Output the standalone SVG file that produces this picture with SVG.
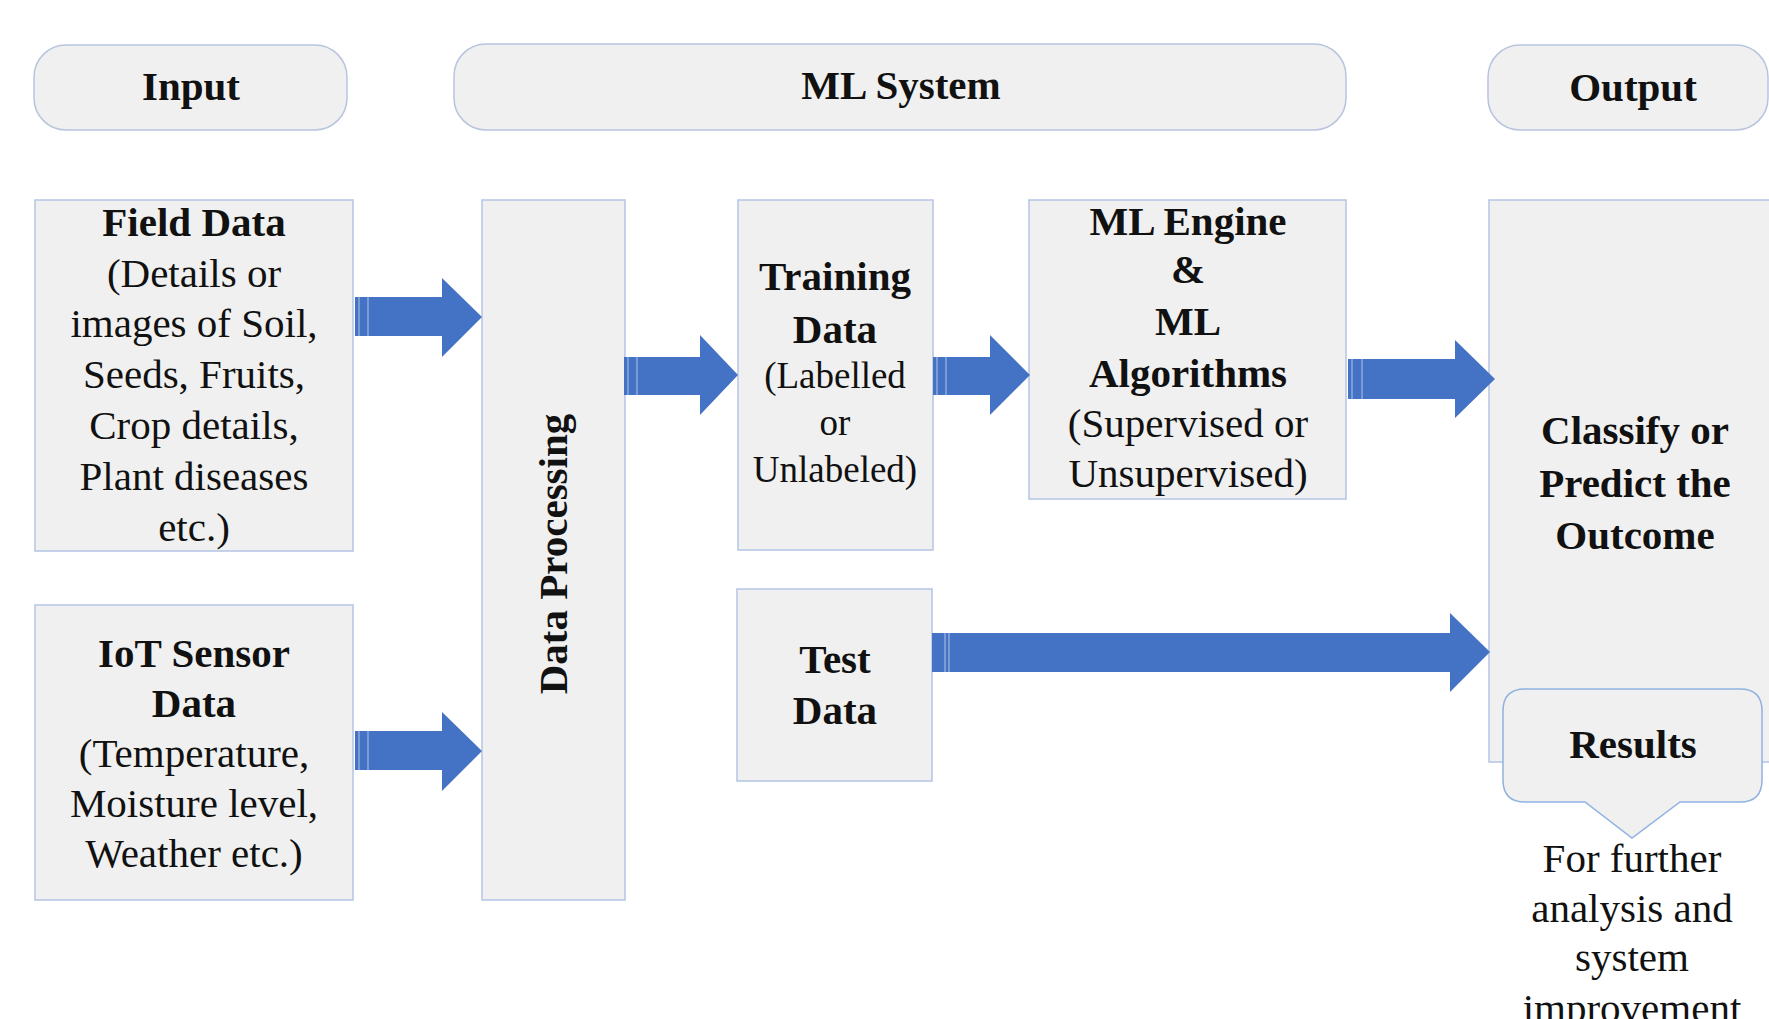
<svg xmlns="http://www.w3.org/2000/svg" width="1769" height="1019" viewBox="0 0 1769 1019">
<defs>
<style>
.box{fill:#F0F0F0;stroke:#B4C5E4;stroke-width:1.5}
.pill{fill:#F0F0F0;stroke:#B8C4DE;stroke-width:1.5}
.call{fill:#F0F0F0;stroke:#8FB2E0;stroke-width:1.5}
.arrow{fill:#4472C4}
.stripe{stroke:#FFFFFF;stroke-opacity:0.45;stroke-width:1.3}
text{font-family:"Liberation Serif","Times New Roman",serif;fill:#111;text-anchor:middle}
.b{font-weight:bold;font-size:41px}
.n{font-size:41px}
.s{font-size:37px}
</style>
</defs>
<rect width="1769" height="1019" fill="#FFFFFF"/>

<g id="input-header">
<rect class="pill" x="34" y="45" width="313" height="85" rx="32"/>
<text class="b" x="191" y="100">Input</text>
</g>
<g id="ml-system-header">
<rect class="pill" x="454" y="44" width="892" height="86" rx="32"/>
<text class="b" x="901" y="99">ML System</text>
</g>
<g id="output-header">
<rect class="pill" x="1488" y="45" width="280" height="85" rx="32"/>
<text class="b" x="1633" y="101">Output</text>
</g>

<g id="field-data">
<rect class="box" x="35" y="200" width="318" height="351"/>
<text class="b" x="194" y="236">Field Data</text>
<text class="n" x="194" y="287">(Details or</text>
<text class="n" x="194" y="337">images of Soil,</text>
<text class="n" x="194" y="388">Seeds, Fruits,</text>
<text class="n" x="194" y="439">Crop details,</text>
<text class="n" x="194" y="490">Plant diseases</text>
<text class="n" x="194" y="541">etc.)</text>
</g>

<g id="iot-sensor-data">
<rect class="box" x="35" y="605" width="318" height="295"/>
<text class="b" x="194" y="667">IoT Sensor</text>
<text class="b" x="194" y="717">Data</text>
<text class="n" x="194" y="767">(Temperature,</text>
<text class="n" x="194" y="817">Moisture level,</text>
<text class="n" x="194" y="867">Weather etc.)</text>
</g>

<g id="data-processing">
<rect class="box" x="482" y="200" width="143" height="700"/>
<text class="b" font-size="42" transform="translate(567,554) rotate(-90)" x="0" y="0">Data Processing</text>
</g>

<g id="training-data">
<rect class="box" x="738" y="200" width="195" height="350"/>
<text class="b" x="835" y="290">Training</text>
<text class="b" x="835" y="343">Data</text>
<text class="s" x="835" y="388">(Labelled</text>
<text class="s" x="835" y="435">or</text>
<text class="s" x="835" y="482">Unlabeled)</text>
</g>

<g id="ml-engine">
<rect class="box" x="1029" y="200" width="317" height="299"/>
<text class="b" x="1188" y="235">ML Engine</text>
<text class="b" x="1188" y="283">&amp;</text>
<text class="b" x="1188" y="335">ML</text>
<text class="b" x="1188" y="387">Algorithms</text>
<text class="n" x="1188" y="437">(Supervised or</text>
<text class="n" x="1188" y="487">Unsupervised)</text>
</g>

<g id="test-data">
<rect class="box" x="737" y="589" width="195" height="192"/>
<text class="b" x="835" y="673">Test</text>
<text class="b" x="835" y="724">Data</text>
</g>

<g id="output-box">
<rect class="box" x="1489" y="200" width="320" height="562"/>
<text class="b" x="1635" y="444">Classify or</text>
<text class="b" x="1635" y="497">Predict the</text>
<text class="b" x="1635" y="549">Outcome</text>
</g>

<g id="results">
<path class="call" d="M1525 689 H1740 Q1762 689 1762 711 V780 Q1762 802 1740 802 H1680 L1632 838 L1585 802 H1525 Q1503 802 1503 780 V711 Q1503 689 1525 689 Z"/>
<text class="b" x="1633" y="758">Results</text>
</g>

<g id="results-note">
<text class="n" x="1632" y="872">For further</text>
<text class="n" x="1632" y="922">analysis and</text>
<text class="n" x="1632" y="971">system</text>
<text class="n" x="1632" y="1022">improvement</text>
</g>

<g id="connectors">
<path class="arrow" d="M355 297 H442 V278 L482 317 L442 357 V336 H355 Z"/>
<line class="stripe" x1="359" y1="297" x2="359" y2="336"/>
<line class="stripe" x1="368" y1="297" x2="368" y2="336"/>

<path class="arrow" d="M355 731 H442 V712 L482 751 L442 791 V770 H355 Z"/>
<line class="stripe" x1="359" y1="731" x2="359" y2="770"/>
<line class="stripe" x1="368" y1="731" x2="368" y2="770"/>

<path class="arrow" d="M624 357 H700 V335 L738 375 L700 415 V395 H624 Z"/>
<line class="stripe" x1="628" y1="357" x2="628" y2="395"/>
<line class="stripe" x1="637" y1="357" x2="637" y2="395"/>

<path class="arrow" d="M933 357 H990 V335 L1030 375 L990 415 V395 H933 Z"/>
<line class="stripe" x1="937" y1="357" x2="937" y2="395"/>
<line class="stripe" x1="946" y1="357" x2="946" y2="395"/>

<path class="arrow" d="M1348 359 H1455 V340 L1495 379 L1455 418 V399 H1348 Z"/>
<line class="stripe" x1="1352" y1="359" x2="1352" y2="399"/>
<line class="stripe" x1="1362" y1="359" x2="1362" y2="399"/>

<path class="arrow" d="M932 633 H1450 V613 L1490 652 L1450 692 V672 H932 Z"/>
<line class="stripe" x1="945" y1="633" x2="945" y2="672"/>
<line class="stripe" x1="949" y1="633" x2="949" y2="672"/>
</g>
</svg>
